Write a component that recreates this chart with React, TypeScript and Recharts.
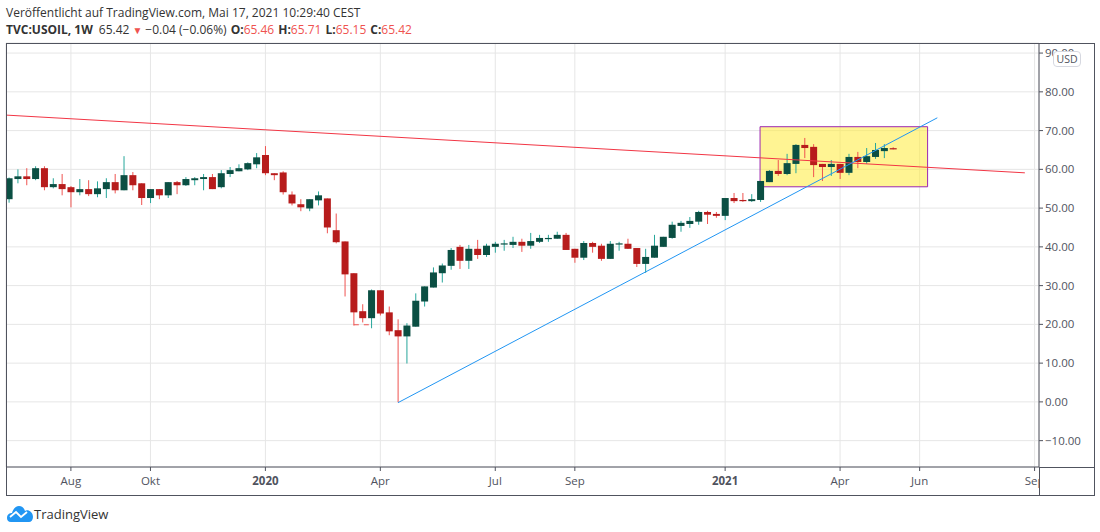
import {
  ComposedChart,
  Bar,
  XAxis,
  YAxis,
  CartesianGrid,
  ReferenceLine,
  ReferenceArea,
} from "recharts";

// weekly USOIL candles
const opens = [
  52.3, 57.5, 58.2, 57.5, 60.3, 55.4, 56.2, 55.4, 54.1, 54.9,
  53.6, 54.9, 56.7, 54.6, 58.5, 56.4, 52.6, 54.9, 53.3, 56.7,
  55.9, 57.2, 57.5, 58.0, 55.4, 58.8, 59.5, 60.0, 61.3, 63.7,
  59.0, 59.2, 53.5, 51.0, 49.9, 52.0, 52.5, 44.3, 41.4, 33.2,
  23.4, 21.6, 28.8, 23.1, 18.5, 16.9, 19.4, 25.9, 29.5, 33.2,
  35.1, 40.0, 36.4, 39.5, 37.9, 40.0, 40.6, 40.5, 41.3, 40.3,
  41.3, 42.1, 42.1, 43.1, 39.5, 37.2, 41.0, 40.3, 36.9, 40.7,
  40.8, 39.7, 35.6, 37.2, 40.0, 42.3, 45.4, 45.9, 46.5, 49.0,
  48.5, 48.0, 52.6, 52.1, 51.8, 52.1, 56.7, 59.6, 58.8, 61.4,
  66.3, 65.8, 61.4, 60.6, 61.4, 59.1, 63.2, 61.9, 63.2, 64.7,
  65.46,
];
const highs = [
  57.9, 60.0, 60.3, 60.8, 60.8, 57.7, 58.8, 55.7, 57.5, 57.2,
  56.9, 57.7, 58.8, 63.4, 59.3, 56.4, 54.9, 54.9, 56.7, 57.0,
  58.0, 58.0, 58.8, 58.8, 59.8, 60.6, 61.3, 61.8, 64.2, 66.0,
  59.0, 59.5, 54.3, 52.3, 52.3, 54.3, 52.5, 48.6, 41.4, 33.2,
  25.2, 29.0, 28.8, 24.6, 21.3, 20.3, 28.0, 29.8, 34.7, 35.7,
  39.7, 40.5, 40.5, 41.8, 40.8, 41.3, 41.8, 42.6, 42.1, 43.6,
  43.1, 43.1, 43.9, 43.6, 39.5, 41.5, 41.3, 40.8, 41.5, 41.3,
  42.1, 39.7, 39.5, 43.1, 42.6, 46.5, 46.7, 47.7, 49.3, 49.3,
  49.0, 52.6, 53.9, 53.9, 53.6, 57.0, 59.8, 62.4, 64.0, 66.5,
  68.1, 66.5, 61.4, 62.4, 61.4, 64.0, 64.5, 65.5, 66.8, 66.5,
  65.71,
];
const lows = [
  51.4, 56.4, 55.9, 57.2, 54.6, 55.1, 53.3, 50.2, 53.3, 53.1,
  52.8, 52.6, 53.8, 54.6, 54.6, 50.8, 51.3, 52.3, 52.6, 53.6,
  55.7, 55.9, 54.6, 54.9, 55.1, 58.0, 59.5, 59.8, 60.3, 58.5,
  57.2, 53.5, 50.7, 49.2, 49.2, 50.7, 43.5, 40.9, 27.2, 19.7,
  20.5, 19.0, 22.3, 17.2, -0.1, 9.9, 19.4, 24.6, 29.5, 30.8,
  34.1, 34.3, 34.3, 36.9, 37.4, 38.5, 39.0, 39.7, 38.7, 39.5,
  41.0, 41.3, 42.1, 39.2, 35.9, 36.6, 38.5, 36.4, 36.9, 39.0,
  39.5, 34.8, 33.3, 37.2, 40.0, 42.1, 43.9, 44.9, 45.7, 45.9,
  47.5, 46.9, 51.3, 51.6, 51.6, 51.6, 56.7, 58.3, 58.5, 59.0,
  62.9, 58.0, 57.0, 58.3, 57.5, 58.5, 60.3, 61.4, 62.7, 62.9,
  65.15,
];
const closes = [
  57.7, 58.2, 57.5, 60.3, 55.4, 56.2, 54.9, 54.1, 54.9, 53.6,
  55.1, 56.7, 54.6, 58.5, 55.9, 52.6, 54.9, 53.3, 56.7, 55.9,
  57.5, 57.7, 58.0, 54.9, 59.0, 59.8, 60.3, 61.6, 63.1, 59.0,
  58.5, 54.1, 51.2, 50.2, 52.3, 53.3, 45.0, 41.2, 32.9, 23.1,
  21.6, 28.8, 22.8, 18.2, 16.9, 19.7, 26.1, 29.8, 33.4, 35.2,
  39.2, 36.4, 39.5, 37.9, 40.3, 40.8, 40.9, 41.3, 40.3, 41.5,
  42.3, 42.3, 43.1, 39.2, 37.2, 41.0, 40.0, 36.9, 40.8, 40.9,
  39.5, 35.6, 37.4, 40.3, 42.6, 45.7, 46.2, 46.7, 49.0, 48.3,
  48.0, 52.6, 51.8, 51.8, 52.3, 57.0, 59.6, 58.8, 61.6, 66.3,
  65.5, 61.1, 60.6, 61.4, 59.1, 63.2, 61.9, 63.4, 65.0, 65.5,
  65.42,
];

const priceTicks = [-10, 0, 10, 20, 30, 40, 50, 60, 70, 80, 90];
const timeTicks = [7, 16, 29, 42, 55, 64, 81, 94, 103, 116];
const timeLabels = ["Aug", "Okt", "2020", "Apr", "Jul", "Sep", "2021", "Apr", "Jun", "Sep"];

// drawings on the chart: [week, price] end points
const resistance = [[-0.34, 74], [114.9, 59.1]];
const support = [[44, -0.2], [105, 73.3]];
const zoneWeeks = [84.95, 103.9];
const zonePrices = [55.5, 71];
const lowMarker = [[39, 19.9], [41, 19.9]];

const UP_BODY = "#0b4f43";
const UP_WICK = "#26a69a";
const DOWN_BODY = "#b71c1c";
const DOWN_WICK = "#ef5350";
const AXIS = "#50535e";
const GRID = "#e6e6e6";
const FONT = "'Open Sans', sans-serif";

const candles = opens.map((open, i) => ({
  week: i,
  open,
  high: highs[i],
  low: lows[i],
  close: closes[i],
  range: [lows[i], highs[i]],
}));

const segment = (pts: number[][]) =>
  pts.map(([x, y]) => ({ x, y }));

function Candle(props: any) {
  const { x, y, width, height, payload } = props;
  const { open, close, high, low } = payload;
  const up = close >= open;
  const perUnit = height / (high - low);
  const top = y + (high - Math.max(open, close)) * perUnit;
  const bodyH = Math.max(Math.abs(close - open) * perUnit, 1.2);
  const cx = x + width / 2;
  return (
    <g>
      <line
        x1={cx}
        x2={cx}
        y1={y}
        y2={y + height}
        stroke={up ? UP_WICK : DOWN_WICK}
        strokeWidth={1}
      />
      <rect
        x={cx - 3.5}
        y={top}
        width={7}
        height={bodyH}
        fill={up ? UP_BODY : DOWN_BODY}
      />
    </g>
  );
}

function TimeTick(props: any) {
  const { x, y, payload } = props;
  const label = timeLabels[timeTicks.indexOf(payload.value)];
  const isYear = /^\d+$/.test(label);
  return (
    <text
      x={x}
      y={y + 12}
      textAnchor="middle"
      fontFamily={FONT}
      fontSize={11.5}
      fontWeight={isYear ? 700 : 400}
      fill={AXIS}
    >
      {label}
    </text>
  );
}

function Logo() {
  return (
    <svg
      width={28}
      height={18}
      viewBox="0 0 28 18"
      style={{ position: "absolute", left: 6, top: 505 }}
    >
      <path
        d="M1 13 C1 9 4 8 6 8 C7 4 10 1 13 1 C16 1 18 3 19 6 C21 4 27 6 27 12 C27 15 25 17 23 17 L5 17 C2 17 1 15 1 13 Z"
        fill="#2196f3"
      />
      <path d="M4 12 L10 7 L15 12 L21 7" fill="none" stroke="#fff" strokeWidth={1.8} />
    </svg>
  );
}

export default function App() {
  return (
    <div
      style={{
        position: "absolute",
        left: 0,
        top: 0,
        width: 1100,
        height: 532,
        background: "#fff",
        overflow: "hidden",
        fontFamily: FONT,
      }}
    >
      <div style={{ position: "absolute", left: 6, top: 4, fontSize: 12, color: "#333", whiteSpace: "nowrap" }}>
        Veröffentlicht auf TradingView.com, Mai 17, 2021 10:29:40 CEST
      </div>
      <div style={{ position: "absolute", left: 6, top: 21, fontSize: 12, color: "#333", whiteSpace: "nowrap" }}>
        <b>TVC:USOIL, 1W</b>
        <span style={{ marginLeft: 6 }}>65.42</span>
        <span style={{ color: "#ef5350", margin: "0 3px", fontSize: 10 }}>▼</span>
        <span>−0.04 (−0.06%)</span>
        <b style={{ marginLeft: 4 }}>O:</b>
        <span style={{ color: "#ef5350" }}>65.46</span>
        <b style={{ marginLeft: 4 }}>H:</b>
        <span style={{ color: "#ef5350" }}>65.71</span>
        <b style={{ marginLeft: 4 }}>L:</b>
        <span style={{ color: "#ef5350" }}>65.15</span>
        <b style={{ marginLeft: 4 }}>C:</b>
        <span style={{ color: "#ef5350" }}>65.42</span>
      </div>

      <ComposedChart
        width={1100}
        height={532}
        data={candles}
        margin={{ top: 43, right: 6, bottom: 37, left: 6 }}
        style={{ position: "absolute", left: 0, top: 0 }}
      >
        <CartesianGrid stroke={GRID} strokeWidth={1} />
        <XAxis
          type="number"
          dataKey="week"
          domain={[-0.34, 116.5]}
          ticks={timeTicks}
          interval={0}
          height={28}
          stroke={AXIS}
          tickSize={4}
          allowDataOverflow
          tick={<TimeTick />}
        />
        <YAxis
          type="number"
          orientation="right"
          domain={[-16.8, 92.6]}
          ticks={priceTicks}
          interval={0}
          width={55}
          stroke={AXIS}
          tickSize={4}
          allowDataOverflow
          tick={{ fontFamily: FONT, fontSize: 11.5, fill: AXIS }}
          tickFormatter={(v: number) => v.toFixed(2).replace("-", "−")}
        />
        <ReferenceLine segment={segment(resistance)} stroke="#f23645" strokeWidth={1} ifOverflow="visible" />
        <ReferenceLine segment={segment(support)} stroke="#2196f3" strokeWidth={1} ifOverflow="visible" />
        <ReferenceLine
          segment={segment(lowMarker)}
          stroke={DOWN_WICK}
          strokeWidth={1}
          strokeDasharray="5 5"
          ifOverflow="visible"
        />
        <ReferenceArea
          x1={zoneWeeks[0]}
          x2={zoneWeeks[1]}
          y1={zonePrices[0]}
          y2={zonePrices[1]}
          fill="#ffeb3b"
          fillOpacity={0.55}
          stroke="#9c27b0"
          strokeWidth={1}
          ifOverflow="visible"
        />
        <Bar
          dataKey="range"
          barSize={7}
          isAnimationActive={false}
          shape={<Candle />}
        />
      </ComposedChart>

      {/* frame around pane and scales */}
      <div
        style={{
          position: "absolute",
          left: 6,
          top: 43,
          width: 1087,
          height: 451,
          border: `1px solid ${AXIS}`,
          pointerEvents: "none",
        }}
      />
      <div
        style={{
          position: "absolute",
          left: 1039,
          top: 467,
          width: 54,
          height: 27,
          background: "#fff",
          borderLeft: `1px solid ${AXIS}`,
          borderTop: `1px solid ${AXIS}`,
        }}
      />
      <div
        style={{
          position: "absolute",
          left: 1053,
          top: 51,
          width: 26,
          height: 14,
          background: "#fff",
          border: "1px solid #d6d8e0",
          borderRadius: 4,
          fontSize: 10.5,
          lineHeight: "14px",
          textAlign: "center",
          color: AXIS,
        }}
      >
        USD
      </div>

      <Logo />
      <div style={{ position: "absolute", left: 34, top: 505, fontSize: 13, color: "#333" }}>
        TradingView
      </div>
    </div>
  );
}
